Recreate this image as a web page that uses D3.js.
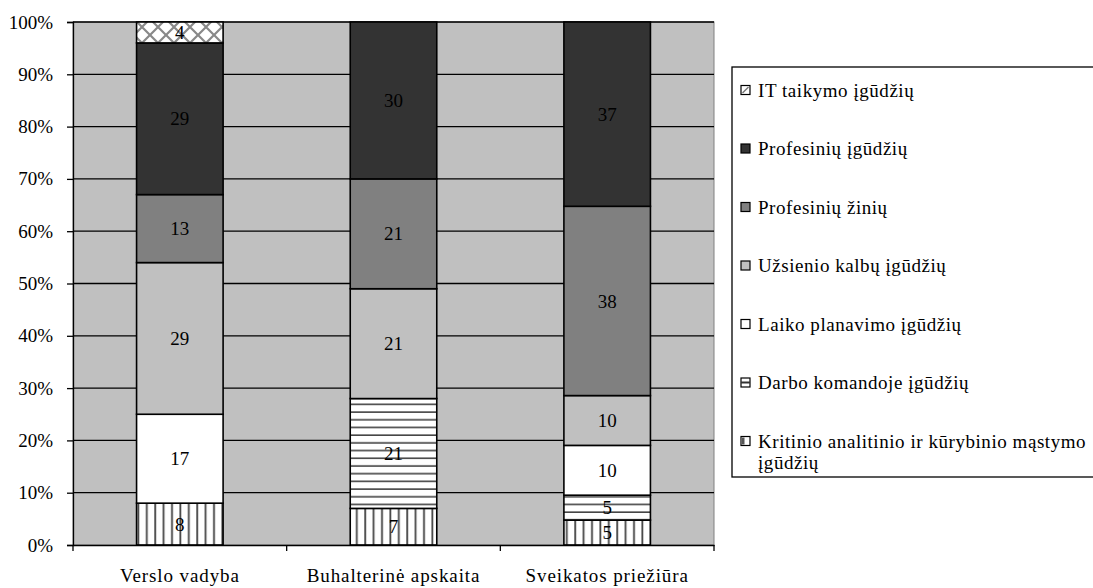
<!DOCTYPE html>
<html>
<head>
<meta charset="utf-8">
<script src="https://cdn.jsdelivr.net/npm/d3@7"></script>
<style>
  html, body { margin: 0; padding: 0; background: #fff; }
  svg { display: block; }
  svg text { font-family: "Liberation Serif", "Times New Roman", serif; }
</style>
</head>
<body>
<svg id="chart" width="1093" height="588"></svg>
<script>
// Study programmes shown on the x axis
const categories = ["Verslo vadyba", "Buhalterinė apskaita", "Sveikatos priežiūra"];

// Skill groups, stacked from the bottom up
const seriesNames = [
  "Kritinio analitinio ir kūrybinio mąstymo įgūdžių",
  "Darbo komandoje įgūdžių",
  "Laiko planavimo įgūdžių",
  "Užsienio kalbų įgūdžių",
  "Profesinių žinių",
  "Profesinių įgūdžių",
  "IT taikymo įgūdžių"
];

// Counts per programme, one array per skill group (same order as categories)
const kritinio    = [8, 7, 5];
const darbo       = [0, 21, 5];
const laiko       = [17, 0, 10];
const uzsienio    = [29, 21, 10];
const profZiniu   = [13, 21, 38];
const profIgudziu = [29, 30, 37];
const itTaikymo   = [4, 0, 0];

const seriesValues = [kritinio, darbo, laiko, uzsienio, profZiniu, profIgudziu, itTaikymo];

const yTicks = [0, 0.1, 0.2, 0.3, 0.4, 0.5, 0.6, 0.7, 0.8, 0.9, 1];

// Legend lines (last one wraps)
const legendLines = {
  "Kritinio analitinio ir kūrybinio mąstymo įgūdžių": ["Kritinio analitinio ir kūrybinio mąstymo", "įgūdžių"]
};

const FONT = "'Liberation Serif', 'Times New Roman', serif";
const FS = 19;
const SPACING = "0.9px";
const LEGEND_SPACING = "0.55px";

// Rows for the stack layout
const rows = categories.map((c, i) => {
  const r = { category: c };
  seriesNames.forEach((s, j) => { r[s] = seriesValues[j][i]; });
  return r;
});

const stacked = d3.stack()
  .keys(seriesNames)
  .offset(d3.stackOffsetExpand)(rows);

const svg = d3.select("#chart");

const plot = { left: 73, right: 714, top: 22, bottom: 545 };

const x = d3.scaleBand().domain(categories).range([plot.left, plot.right]).padding(0);
const barW = x.bandwidth() * 0.405;
const y = d3.scaleLinear().domain([0, 1]).range([plot.bottom, plot.top]);

// Fill patterns
const defs = svg.append("defs");

const pv = defs.append("pattern").attr("id", "pat-vert")
  .attr("patternUnits", "userSpaceOnUse").attr("width", 8.4).attr("height", 8);
pv.append("rect").attr("width", 8.4).attr("height", 8).attr("fill", "#fff");
pv.append("line").attr("x1", 4).attr("x2", 4).attr("y1", 0).attr("y2", 8)
  .attr("stroke", "#444").attr("stroke-width", 1.8);

const ph = defs.append("pattern").attr("id", "pat-horz")
  .attr("patternUnits", "userSpaceOnUse").attr("width", 8).attr("height", 7.7);
ph.append("rect").attr("width", 8).attr("height", 7.7).attr("fill", "#fff");
ph.append("line").attr("x1", 0).attr("x2", 8).attr("y1", 4).attr("y2", 4)
  .attr("stroke", "#444").attr("stroke-width", 1.6);

const pc = defs.append("pattern").attr("id", "pat-cross")
  .attr("patternUnits", "userSpaceOnUse").attr("width", 16).attr("height", 16)
  .attr("x", 6).attr("y", 3);
pc.append("rect").attr("width", 16).attr("height", 16).attr("fill", "#fff");
pc.append("path").attr("d", "M0,0L16,16M16,0L0,16")
  .attr("stroke", "#888").attr("stroke-width", 2.2).attr("fill", "none");

const fills = {
  "Kritinio analitinio ir kūrybinio mąstymo įgūdžių": "url(#pat-vert)",
  "Darbo komandoje įgūdžių": "url(#pat-horz)",
  "Laiko planavimo įgūdžių": "#ffffff",
  "Užsienio kalbų įgūdžių": "#c0c0c0",
  "Profesinių žinių": "#808080",
  "Profesinių įgūdžių": "#333333",
  "IT taikymo įgūdžių": "url(#pat-cross)"
};

// Plot background
svg.append("rect")
  .attr("x", plot.left).attr("y", plot.top)
  .attr("width", plot.right - plot.left).attr("height", plot.bottom - plot.top)
  .attr("fill", "#c0c0c0").attr("stroke", "#808080").attr("stroke-width", 1);

// Horizontal gridlines
svg.append("g").selectAll("line").data(yTicks.filter(t => t > 0))
  .join("line")
  .attr("x1", plot.left).attr("x2", plot.right)
  .attr("y1", d => y(d)).attr("y2", d => y(d))
  .attr("stroke", "#000").attr("stroke-width", 1.3);

// Stacked bars
const layers = svg.append("g").selectAll("g").data(stacked).join("g");

layers.selectAll("rect")
  .data(d => d.map(seg => ({ key: d.key, seg })).filter(e => e.seg[1] - e.seg[0] > 0))
  .join("rect")
  .attr("x", d => x(d.seg.data.category) + (x.bandwidth() - barW) / 2)
  .attr("y", d => y(d.seg[1]))
  .attr("width", barW)
  .attr("height", d => y(d.seg[0]) - y(d.seg[1]))
  .attr("fill", d => fills[d.key])
  .attr("stroke", "#000").attr("stroke-width", 1.6);

// Segment value labels
const labels = [];
stacked.forEach(layer => {
  layer.forEach(seg => {
    const v = seg.data[layer.key];
    if (v > 0) labels.push({ v, cat: seg.data.category, mid: (seg[0] + seg[1]) / 2 });
  });
});
svg.append("g").selectAll("text").data(labels).join("text")
  .attr("x", d => x(d.cat) + x.bandwidth() / 2)
  .attr("y", d => y(d.mid))
  .attr("dy", "0.35em")
  .attr("text-anchor", "middle")
  .style("font-family", FONT).style("font-size", FS + "px")
  .attr("fill", "#000")
  .text(d => d.v);

// Y axis
const yAxis = svg.append("g")
  .attr("transform", `translate(${plot.left},0)`)
  .call(d3.axisLeft(y).tickValues(yTicks).tickFormat(d3.format(".0%")).tickSize(6).tickPadding(14));
yAxis.attr("font-family", null).attr("font-size", null);
yAxis.select(".domain").attr("stroke", "#000").attr("stroke-width", 1.3);
yAxis.selectAll(".tick line").attr("stroke", "#000").attr("stroke-width", 1.3);
yAxis.selectAll("text").style("font-family", FONT).style("font-size", FS + "px").attr("fill", "#000");

// X axis
const xAxis = svg.append("g")
  .attr("transform", `translate(0,${plot.bottom})`)
  .call(d3.axisBottom(x).tickSize(0).tickPadding(24));
xAxis.attr("font-family", null).attr("font-size", null);
xAxis.select(".domain").attr("stroke", "#000").attr("stroke-width", 1.3);
xAxis.selectAll("text").style("font-family", FONT).style("font-size", FS + "px")
  .style("letter-spacing", SPACING).attr("fill", "#000");

// Category boundary ticks
const bounds = categories.map(c => x(c)).concat([x(categories[categories.length - 1]) + x.bandwidth()]);
svg.append("g").selectAll("line").data(bounds).join("line")
  .attr("x1", d => d).attr("x2", d => d)
  .attr("y1", plot.bottom).attr("y2", plot.bottom + 6)
  .attr("stroke", "#000").attr("stroke-width", 1.3);

// Legend
const legend = svg.append("g");
legend.append("rect")
  .attr("x", 732).attr("y", 67).attr("width", 420).attr("height", 410)
  .attr("fill", "#fff").attr("stroke", "#000").attr("stroke-width", 1.3);

const legendOrder = seriesNames.slice().reverse();
const legendStep = 58.5;

const items = legend.selectAll("g.item").data(legendOrder).join("g")
  .attr("class", "item")
  .attr("transform", (d, i) => `translate(741,${90 + i * legendStep})`);

// Swatch base
const swatchFill = {
  "Kritinio analitinio ir kūrybinio mąstymo įgūdžių": "#fff",
  "Darbo komandoje įgūdžių": "#fff",
  "IT taikymo įgūdžių": "#fff"
};
items.append("rect")
  .attr("x", 0).attr("y", -4.5).attr("width", 9).attr("height", 9)
  .attr("fill", d => swatchFill[d] || fills[d])
  .attr("stroke", "#000").attr("stroke-width", 1.2);

// Swatch hatch hints
items.filter(d => d === "IT taikymo įgūdžių").append("line")
  .attr("x1", 1.5).attr("y1", 3).attr("x2", 7.5).attr("y2", -3)
  .attr("stroke", "#777").attr("stroke-width", 1.5);
items.filter(d => d === "Darbo komandoje įgūdžių").append("line")
  .attr("x1", 0).attr("y1", 0).attr("x2", 9).attr("y2", 0)
  .attr("stroke", "#333").attr("stroke-width", 2);
items.filter(d => d === "Kritinio analitinio ir kūrybinio mąstymo įgūdžių").append("rect")
  .attr("x", 1).attr("y", -3.5).attr("width", 2.5).attr("height", 7)
  .attr("fill", "#555");

items.append("text")
  .attr("x", 17).attr("y", 0)
  .style("font-family", FONT).style("font-size", FS + "px")
  .style("letter-spacing", LEGEND_SPACING)
  .attr("fill", "#000")
  .each(function(d) {
    const lines = legendLines[d] || [d];
    const t = d3.select(this);
    lines.forEach((ln, k) => {
      t.append("tspan").attr("x", 17).attr("dy", k === 0 ? "0.35em" : 21).text(ln);
    });
  });
</script>
</body>
</html>
